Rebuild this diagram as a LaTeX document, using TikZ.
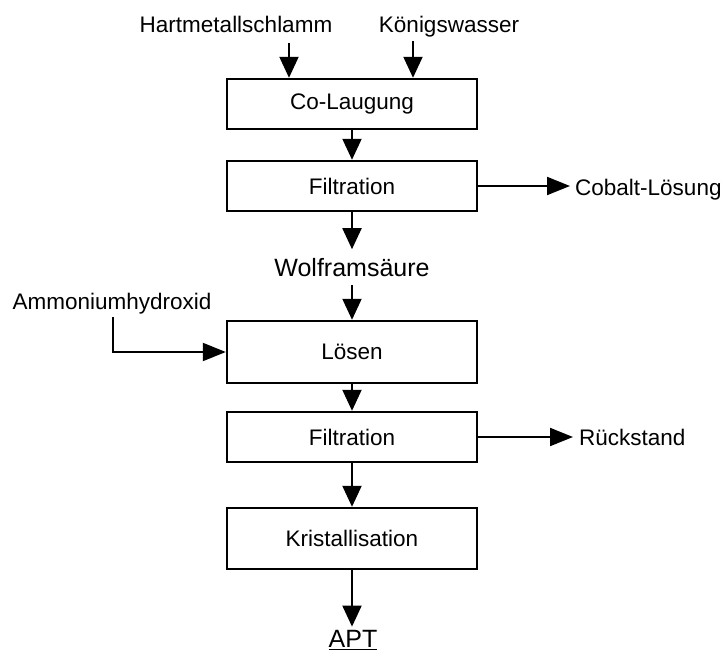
\documentclass[tikz,border=0pt]{standalone}
\usepackage{fontspec}
\setmainfont{Liberation Sans}
\usetikzlibrary{arrows.meta}
\begin{document}
\begin{tikzpicture}[x=1bp,y=-1bp,
  procbox/.style={draw, line width=2.4bp, minimum width=250bp, inner sep=0pt,
    font=\fontsize{22.5bp}{26bp}\selectfont},
  lbl/.style={inner sep=0pt, font=\fontsize{22.5bp}{26bp}\selectfont},
  biglbl/.style={inner xsep=0pt, font=\fontsize{25bp}{30bp}\selectfont},
  flow/.style={line width=2bp, -{Triangle[length=21bp,width=19bp]}},
  sideflow/.style={line width=2bp, -{Triangle[length=23bp,width=18bp]}}]
\useasboundingbox (0,0) rectangle (723,655);

% process steps
\node[procbox, minimum height=50bp] (laug)  at (352,104)   {Co-Laugung};
\node[procbox, minimum height=50bp] (filt1) at (352,186)   {Filtration};
\node[procbox, minimum height=62bp] (loes)  at (352,352)   {Lösen};
\node[procbox, minimum height=50bp] (filt2) at (352,437)   {Filtration};
\node[procbox, minimum height=61bp] (krist) at (352,538.5) {Kristallisation};

% inputs and products
\node[lbl, anchor=base] (hm)  at (236,33)  {Hartmetallschlamm};
\node[lbl, anchor=base] (kw)  at (449,33)  {Königswasser};
\node[lbl, anchor=base] (amm) at (112,309) {Ammoniumhydroxid};
\node[biglbl, inner ysep=8.5bp, anchor=base] (wolf) at (352,276) {Wolframsäure};
\node[lbl, inner xsep=5bp, anchor=base west] (cobalt) at (570,195) {Cobalt-Lösung};
\node[lbl, inner xsep=6bp, anchor=base west] (rueck)  at (573,445) {Rückstand};
\node[biglbl, inner ysep=3.5bp, anchor=base] (apt) at (353,647.5) {\underline{APT}};

% free ends of the feed lines
\coordinate (hmin)  at (289,43);
\coordinate (kwin)  at (413,41);
\coordinate (ammin) at (113,317);

% connectors
\draw[flow] (hmin) -- (laug.north -| hmin);
\draw[flow] (kwin) -- (laug.north -| kwin);
\draw[flow] (laug) -- (filt1);
\draw[sideflow] (filt1.east) -- (filt1.east -| cobalt.west);
\draw[flow] (filt1.south) -- (filt1.south |- wolf.north);
\draw[flow] (wolf.south -| loes.north) -- (loes.north);
\draw[sideflow] (ammin) |- (loes.west);
\draw[flow] (loes) -- (filt2);
\draw[sideflow] (filt2.east) -- (filt2.east -| rueck.west);
\draw[flow] (filt2) -- (krist);
\draw[flow] (krist.south) -- (krist.south |- apt.north);
\end{tikzpicture}
\end{document}
